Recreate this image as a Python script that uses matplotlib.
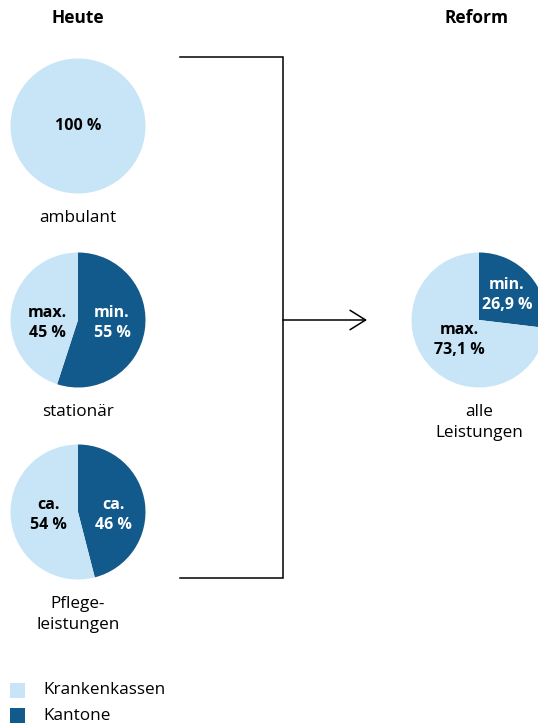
import matplotlib.pyplot as plt

plt.rcParams['font.family'] = ['Open Sans', 'DejaVu Sans']

# data
groups = ["ambulant", "stationär", "Pflege-\nleistungen", "alle\nLeistungen"]
kantone = [0, 55, 46, 26.9]
kassen = [100, 45, 54, 73.1]
kassen_labels = ["100 %", "max.\n45 %", "ca.\n54 %", "max.\n73,1 %"]
kantone_labels = ["", "min.\n55 %", "ca.\n46 %", "min.\n26,9 %"]
legend_names = ["Krankenkassen", "Kantone"]

light = "#c8e5f7"
dark = "#125a8b"

W, H = 538, 725
fig = plt.figure(figsize=(W / 100, H / 100), dpi=100)
ax = fig.add_axes([0, 0, 1, 1])


def Y(py):
    # pixel-from-top to data y
    return H - py


# pie centres in pixels (x, y from top) and radius
centres = [(78, 126), (78, 320), (78, 512), (479, 320)]
r = 67.5

for i, (cx, cy) in enumerate(centres):
    ax.pie([kantone[i], kassen[i]], colors=[dark, light], startangle=90,
           counterclock=False, center=(cx, Y(cy)), radius=r,
           wedgeprops=dict(linewidth=0))
    ax.text(cx, Y(cy + r + 16), groups[i], ha="center", va="top",
            fontsize=12.3, linespacing=1.45)

# label positions inside pies (offsets from centre)
kassen_off = [(0, 0), (-31, 3), (-30, 3), (-20, 20)]
kantone_off = [(0, 0), (34, 3), (35, 3), (28, -25)]
for i, (cx, cy) in enumerate(centres):
    dx, dy = kassen_off[i]
    ax.text(cx + dx, Y(cy + dy), kassen_labels[i], ha="center", va="center",
            fontsize=11.5, fontweight="bold", color="black", linespacing=1.4)
    if kantone_labels[i]:
        dx, dy = kantone_off[i]
        ax.text(cx + dx, Y(cy + dy), kantone_labels[i], ha="center", va="center",
                fontsize=11.5, fontweight="bold", color="white", linespacing=1.4)

ax.text(78, Y(18), "Heute", ha="center", va="center", fontsize=12.5, fontweight="bold")
ax.text(476, Y(18), "Reform", ha="center", va="center", fontsize=12.5, fontweight="bold")

# bracket and arrow
ax.plot([180, 283, 283, 180], [Y(57), Y(57), Y(578), Y(578)], color="black", lw=1.1,
        solid_joinstyle="miter")
ax.annotate("", xy=(367, Y(320)), xytext=(283, Y(320)),
            arrowprops=dict(arrowstyle="->,head_length=0.8,head_width=0.5",
                            color="black", lw=1.1, mutation_scale=14,
                            shrinkA=0, shrinkB=0))

# legend
for j, (name, col) in enumerate(zip(legend_names, [light, dark])):
    top = 683 + j * 25
    ax.add_patch(plt.Rectangle((10, Y(top + 15)), 15, 15, color=col, lw=0))
    ax.text(43, Y(top + 7.5), name, ha="left", va="center", fontsize=12.3)

ax.set_xlim(0, W)
ax.set_ylim(0, H)
ax.set_aspect("auto")
ax.axis("off")

fig.savefig("out.png", dpi=100)
